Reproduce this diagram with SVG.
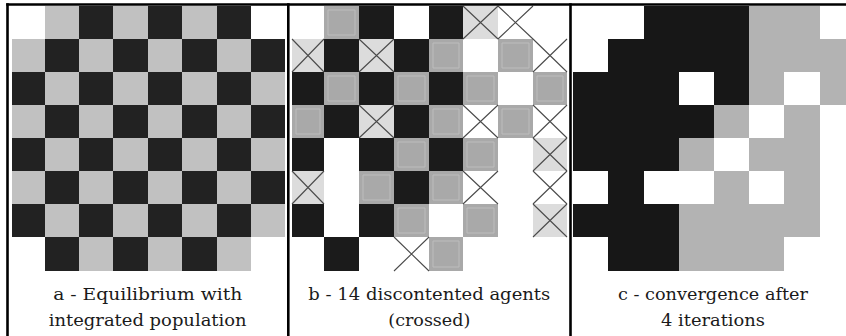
<svg xmlns="http://www.w3.org/2000/svg" width="846" height="336" viewBox="0 0 846 336">
<style>
  .cells{shape-rendering:crispEdges}
  .da{fill:#222222}
  .la{fill:#c1c1c1}
  .db{fill:#1b1b1b}
  .mb{fill:#a9a9a9}
  .lb{fill:#dcdcdc}
  .frame{fill:none;stroke:#bdbdbd;stroke-width:1}
  .x{stroke:#4a4a4a;stroke-width:1.1;fill:none}
  .dc{fill:#171717}
  .gc{fill:#b3b3b3}
  .rule{stroke:#000;stroke-width:2.6}
  .cap{font-family:"DejaVu Serif","Liberation Serif",serif;font-size:16px;fill:#1a1a1a;text-anchor:middle}
</style>
<rect width="846" height="336" fill="#fff"/>

<g id="panel-a" class="cells">
  <rect class="la" x="12" y="6" width="273" height="265"/>
  <rect fill="#fff" x="12" y="6" width="33" height="33"/>
  <rect fill="#fff" x="251" y="6" width="34" height="33"/>
  <rect fill="#fff" x="12" y="237" width="33" height="34"/>
  <rect fill="#fff" x="251" y="237" width="34" height="34"/>
  <path class="da" d="M79 6h34v33h-34zM148 6h34v33h-34zM217 6h34v33h-34z
  M45 39h34v33h-34zM113 39h35v33h-35zM182 39h35v33h-35zM251 39h34v33h-34z
  M12 72h33v33h-33zM79 72h34v33h-34zM148 72h34v33h-34zM217 72h34v33h-34z
  M45 105h34v33h-34zM113 105h35v33h-35zM182 105h35v33h-35zM251 105h34v33h-34z
  M12 138h33v33h-33zM79 138h34v33h-34zM148 138h34v33h-34zM217 138h34v33h-34z
  M45 171h34v33h-34zM113 171h35v33h-35zM182 171h35v33h-35zM251 171h34v33h-34z
  M12 204h33v33h-33zM79 204h34v33h-34zM148 204h34v33h-34zM217 204h34v33h-34z
  M45 237h34v34h-34zM113 237h35v34h-35zM182 237h35v34h-35z"/>
</g>

<g id="panel-b">
  <g class="cells">
    <path class="db" d="M359 6h35v33h-35zM429 6h34v33h-34z
    M324 39h35v33h-35zM394 39h35v33h-35z
    M292 72h32v33h-32zM359 72h35v33h-35zM429 72h34v33h-34z
    M324 105h35v33h-35zM394 105h35v33h-35z
    M292 138h32v33h-32zM359 138h35v33h-35zM429 138h34v33h-34z
    M394 171h35v33h-35z
    M292 204h32v33h-32zM359 204h35v33h-35z
    M324 237h35v34h-35z"/>
    <path class="mb" d="M324 6h35v33h-35z
    M429 39h34v33h-34zM498 39h35v33h-35z
    M324 72h35v33h-35zM394 72h35v33h-35zM463 72h35v33h-35zM533 72h34v33h-34z
    M292 105h32v33h-32zM429 105h34v33h-34zM498 105h35v33h-35z
    M394 138h35v33h-35zM463 138h35v33h-35z
    M359 171h35v33h-35zM429 171h34v33h-34z
    M394 204h35v33h-35zM463 204h35v33h-35z
    M429 237h34v34h-34z"/>
    <path class="lb" d="M463 6h35v33h-35z
    M292 39h32v33h-32zM359 39h35v33h-35z
    M359 105h35v33h-35z
    M533 138h34v33h-34z
    M292 171h32v33h-32z
    M533 204h34v33h-34z"/>
  </g>
  <path class="frame" d="M328 10h27v25h-27zM433 43h26v25h-26zM502 43h27v25h-27z
  M328 76h27v25h-27zM398 76h27v25h-27zM467 76h27v25h-27zM537 76h26v25h-26z
  M296 109h24v25h-24zM433 109h26v25h-26zM502 109h27v25h-27z
  M398 142h27v25h-27zM467 142h27v25h-27z
  M363 175h27v25h-27zM433 175h26v25h-26z
  M398 208h27v25h-27zM467 208h27v25h-27z
  M433 241h26v26h-26z"/>
  <path class="x" d="M463 6L498 39M498 6L463 39
  M498 6L533 39M533 6L498 39
  M292 39L324 72M324 39L292 72
  M359 39L394 72M394 39L359 72
  M533 39L567 72M567 39L533 72
  M359 105L394 138M394 105L359 138
  M463 105L498 138M498 105L463 138
  M533 105L567 138M567 105L533 138
  M533 138L567 171M567 138L533 171
  M292 171L324 204M324 171L292 204
  M463 171L498 204M498 171L463 204
  M533 171L567 204M567 171L533 204
  M533 204L567 237M567 204L533 237
  M394 237L429 271M429 237L394 271"/>
</g>

<g id="panel-c" class="cells">
  <path class="dc" d="M644 6h105v33h-105z
  M608 39h141v33h-141z
  M573 72h106v33h-106zM714 72h35v33h-35z
  M573 105h141v33h-141z
  M573 138h106v33h-106z
  M608 171h36v33h-36z
  M573 204h106v33h-106z
  M608 237h71v34h-71z"/>
  <path class="gc" d="M749 6h71v33h-71z
  M749 39h97v33h-97z
  M749 72h35v33h-35zM820 72h26v33h-26z
  M714 105h35v33h-35zM784 105h36v33h-36z
  M679 138h35v33h-35zM749 138h71v33h-71z
  M714 171h35v33h-35zM784 171h36v33h-36z
  M679 204h141v33h-141z
  M679 237h105v34h-105z"/>
</g>

<g id="rules">
  <line class="rule" x1="6.2" y1="4.5" x2="846" y2="4.5"/>
  <line class="rule" x1="7.5" y1="3.3" x2="7.5" y2="336"/>
  <line class="rule" x1="288.3" y1="3.3" x2="288.3" y2="336"/>
  <line class="rule" x1="570.5" y1="3.3" x2="570.5" y2="336"/>
</g>

<g id="captions">
  <text class="cap" x="147.7" y="299.5" textLength="189" lengthAdjust="spacingAndGlyphs">a - Equilibrium with</text>
  <text class="cap" x="147.7" y="325.5" textLength="198" lengthAdjust="spacingAndGlyphs">integrated population</text>
  <text class="cap" x="429.3" y="299.5" textLength="242" lengthAdjust="spacingAndGlyphs">b - 14 discontented agents</text>
  <text class="cap" x="429.3" y="325.5" textLength="82" lengthAdjust="spacingAndGlyphs">(crossed)</text>
  <text class="cap" x="713" y="299.5" textLength="190" lengthAdjust="spacingAndGlyphs">c - convergence after</text>
  <text class="cap" x="713" y="325.5" textLength="104" lengthAdjust="spacingAndGlyphs">4 iterations</text>
</g>
</svg>
